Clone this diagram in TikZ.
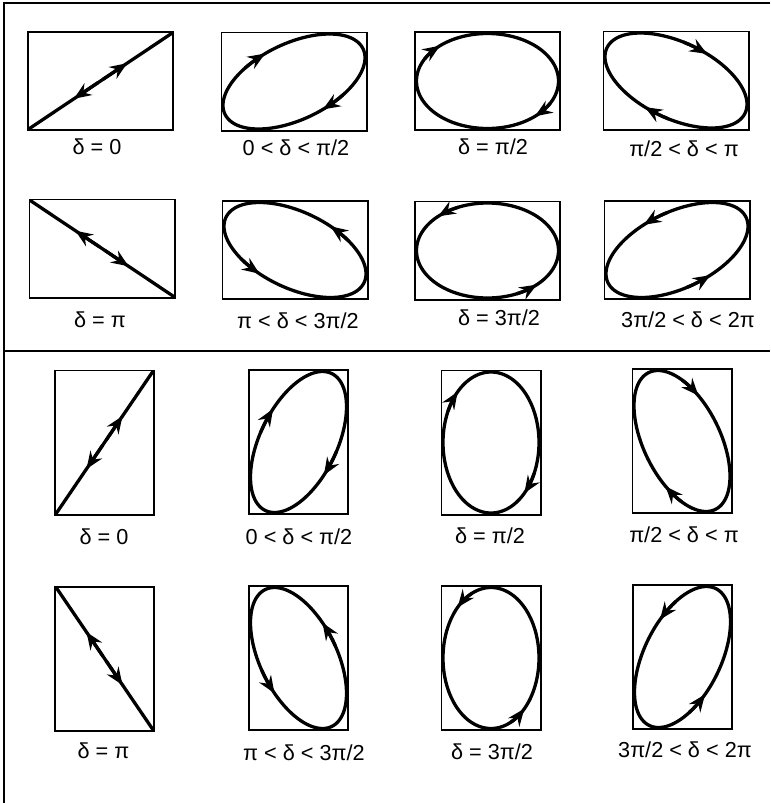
\documentclass[tikz,border=0pt]{standalone}
\usepackage{fontspec}
\setmainfont{Liberation Sans}
\usetikzlibrary{arrows.meta}
% x = A sin t, y = B sin(t+delta), arrows at t0 and t0+180
\newcommand{\lissajous}[5]{%
  \draw[curve,shift={(#1.center)}] plot[domain=0:360,samples=145,variable=\t] ({#2*sin(\t)},{-#3*sin(\t+#4)});
  \draw[curve,tip,shift={(#1.center)}] plot[domain=#5-20:#5,samples=5,variable=\t] ({#2*sin(\t)},{-#3*sin(\t+#4)});
  \draw[curve,tip,shift={(#1.center)}] plot[domain=#5+160:#5+180,samples=5,variable=\t] ({#2*sin(\t)},{-#3*sin(\t+#4)});
}

\begin{document}
\begin{tikzpicture}[x=0.03cm,y=-0.03cm]
\tikzstyle{frame}=[line width=1.6pt]
\tikzstyle{wide}=[draw,line width=1.7pt,minimum width=4.35cm,minimum height=2.94cm,inner sep=0]
\tikzstyle{tall}=[draw,line width=1.7pt,minimum width=2.97cm,minimum height=4.32cm,inner sep=0]
\tikzstyle{curve}=[line width=2.8pt,line join=round]
\tikzstyle{tip}=[-{Stealth[length=5.2mm,width=4.2mm,inset=1.8mm]}]
\tikzstyle{tag}=[inner sep=0,font=\fontsize{18.5}{22}\selectfont]
\useasboundingbox (0,0) rectangle (770,803);
\draw[frame] (4,803) -- (4,3) -- (770,3);
\draw[frame] (4,351) -- (770,351);
% horizontal boxes
\node[wide] (a1) at (100.5,81) {};
\node[wide] (a2) at (294,81.5) {};
\node[wide] (a3) at (487.5,81) {};
\node[wide] (a4) at (676,80.5) {};
\node[wide] (b1) at (102,248.5) {};
\node[wide] (b2) at (295,250) {};
\node[wide] (b3) at (487.5,250.5) {};
\node[wide] (b4) at (677,250) {};
% vertical boxes
\node[tall] (c1) at (104.5,442.5) {};
\node[tall] (c2) at (298.5,442) {};
\node[tall] (c3) at (491,442.5) {};
\node[tall] (c4) at (682,441) {};
\node[tall] (d1) at (104.5,658.5) {};
\node[tall] (d2) at (298.5,658) {};
\node[tall] (d3) at (491,658) {};
\node[tall] (d4) at (682.5,657) {};
% labels
\node[tag] (la1) at (97,147) {δ = 0};
\node[tag] (la2) at (296,148) {0 < δ < π/2};
\node[tag] (la3) at (493,147) {δ = π/2};
\node[tag] (la4) at (684,149) {π/2 < δ < π};
\node[tag] (lb1) at (100,320) {δ = π};
\node[tag] (lb2) at (298,321) {π < δ < 3π/2};
\node[tag] (lb3) at (499,318) {δ = 3π/2};
\node[tag] (lb4) at (688,320) {3π/2 < δ < 2π};
\node[tag] (lc1) at (104,537) {δ = 0};
\node[tag] (lc2) at (299,537) {0 < δ < π/2};
\node[tag] (lc3) at (490,536) {δ = π/2};
\node[tag] (lc4) at (684,535) {π/2 < δ < π};
\node[tag] (ld1) at (103.5,751) {δ = π};
\node[tag] (ld2) at (304,753) {π < δ < 3π/2};
\node[tag] (ld3) at (492,752) {δ = 3π/2};
\node[tag] (ld4) at (685,750) {3π/2 < δ < 2π};
% curves
\lissajous{a1}{71}{47.5}{0}{22}
\lissajous{a2}{71}{47.5}{60}{-24}
\lissajous{a3}{71}{47.5}{90}{-42}
\lissajous{a4}{71}{47.5}{120}{26}
\lissajous{b1}{71}{47.5}{180}{22}
\lissajous{b2}{71}{47.5}{240}{150}
\lissajous{b3}{71}{47.5}{270}{44}
\lissajous{b4}{71}{47.5}{300}{28}
\lissajous{c1}{48}{70.5}{0}{22}
\lissajous{c2}{48}{70.5}{60}{-32}
\lissajous{c3}{48}{70.5}{90}{-44}
\lissajous{c4}{48}{70.5}{120}{20}
\lissajous{d1}{48}{70.5}{180}{22}
\lissajous{d2}{48}{70.5}{240}{150}
\lissajous{d3}{48}{70.5}{270}{44}
\lissajous{d4}{48}{70.5}{300}{28}
\end{tikzpicture}
\end{document}
